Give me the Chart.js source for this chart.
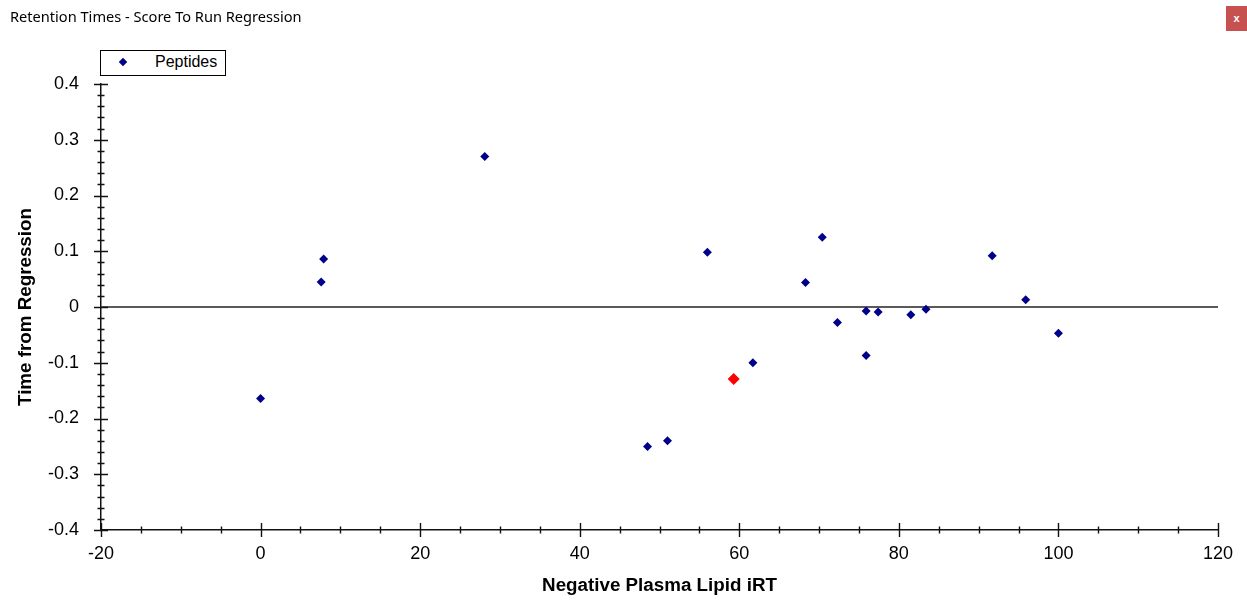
<!DOCTYPE html>
<html>
<head>
<meta charset="utf-8">
<script src="https://cdn.jsdelivr.net/npm/chart.js@4.4.1/dist/chart.umd.min.js"></script>
<style>
  html, body { margin: 0; padding: 0; background: #fff; }
  #wrap { position: relative; width: 1247px; height: 600px; overflow: hidden; }
  #chart { position: absolute; left: 0; top: 0; }
  #caption {
    position: absolute; left: 10px; top: 6px;
    font: 14.6px "Noto Sans", "Open Sans", sans-serif; color: #000;
  }
  #closeBtn {
    position: absolute; left: 1226px; top: 6px; width: 21px; height: 25px;
    background: #c75050; color: #fff; font: bold 11px "Liberation Sans", Arial, sans-serif;
    text-align: center; line-height: 25px;
  }
  #legendBox {
    position: absolute; left: 100px; top: 50px; width: 124px; height: 24px;
    border: 1px solid #000; background: #fff;
    font: 16px "Liberation Sans", Arial, sans-serif; color: #000;
  }
</style>
</head>
<body>
<div id="wrap">
  <canvas id="chart" width="1247" height="600"></canvas>
  <div id="caption">Retention Times - Score To Run Regression</div>
  <div id="closeBtn">x</div>
  <div id="legendBox">
    <span style="position:absolute;left:19px;top:8px;width:6px;height:6px;background:#00008b;transform:rotate(45deg);"></span>
    <span style="position:absolute;left:54px;top:2px;">Peptides</span>
  </div>
</div>
<script>
// Peptide measurements: iRT value vs residual time from the regression line
const irtValues = [0, 7.6, 7.9, 28.1, 48.5, 51.0, 56.0, 59.3, 61.7, 68.3, 70.4, 72.3, 75.9, 75.9, 77.4, 81.5, 83.4, 91.7, 95.9, 100.0];
const residuals = [-0.164, 0.045, 0.086, 0.270, -0.250, -0.240, 0.098, -0.129, -0.100, 0.044, 0.125, -0.028, -0.007, -0.087, -0.009, -0.014, -0.004, 0.092, 0.013, -0.047];
const selectedIndex = 7; // the highlighted (red) peptide

const xMin = -20, xMax = 120, xStep = 20, xMinorStep = 5;
const yMin = -0.4, yMax = 0.4, yStep = 0.1, yMinorStep = 0.02;

const points = irtValues.map((x, i) => ({ x: x, y: residuals[i] }));
const pointColors = points.map((p, i) => i === selectedIndex ? '#ff0000' : '#00008b');
const pointSizes = points.map((p, i) => i === selectedIndex ? 6 : 4.5);

// Draws the major and minor tick marks that cross both axes
const axisTicks = {
    id: 'axisTicks',
    afterDraw(chart) {
        const ctx = chart.ctx;
        const xs = chart.scales.x, ys = chart.scales.y;
        const axisY = ys.getPixelForValue(yMin);
        const axisX = xs.getPixelForValue(xMin);
        ctx.save();
        ctx.strokeStyle = '#111';
        ctx.lineWidth = 1.4;
        ctx.beginPath();
        for (let v = xMin; v <= xMax + 1e-9; v += xMinorStep) {
            const px = Math.round(xs.getPixelForValue(v)) + 0.5;
            const len = Math.abs(v % xStep) < 1e-9 ? 7 : 3.5;
            ctx.moveTo(px, axisY - len);
            ctx.lineTo(px, axisY + len);
        }
        const n = Math.round((yMax - yMin) / yMinorStep);
        for (let k = 0; k <= n; k++) {
            const v = yMin + k * yMinorStep;
            const py = Math.round(ys.getPixelForValue(v)) + 0.5;
            const len = k % 5 === 0 ? 7 : 3.5;
            ctx.moveTo(axisX - len, py);
            ctx.lineTo(axisX + len, py);
        }
        ctx.stroke();
        ctx.restore();
    }
};

const tickFont = { family: '"Liberation Sans", Arial, sans-serif', size: 18 };
const titleFont = { family: '"Liberation Sans", Arial, sans-serif', size: 18.8, weight: 'bold' };

new Chart(document.getElementById('chart').getContext('2d'), {
    type: 'scatter',
    data: {
        datasets: [{
            label: 'Peptides',
            data: points,
            pointStyle: 'rectRot',
            pointRadius: pointSizes,
            pointHoverRadius: pointSizes,
            pointBackgroundColor: pointColors,
            pointBorderColor: pointColors,
            pointBorderWidth: 0
        }]
    },
    options: {
        responsive: false,
        animation: false,
        events: [],
        layout: { padding: { left: 0, top: 84, right: 29, bottom: 0 } },
        plugins: {
            legend: { display: false },
            tooltip: { enabled: false }
        },
        scales: {
            x: {
                type: 'linear',
                min: xMin,
                max: xMax,
                afterFit: (s) => { s.height = 70; },
                ticks: { stepSize: xStep, color: '#000', font: tickFont, padding: 13, maxRotation: 0 },
                grid: { display: false, drawTicks: false },
                border: { color: '#111', width: 1.5 },
                title: { display: true, text: 'Negative Plasma Lipid iRT', color: '#000', font: titleFont, padding: { top: 0, bottom: 3 } }
            },
            y: {
                type: 'linear',
                min: yMin,
                max: yMax,
                afterFit: (s) => { s.width = 101; },
                ticks: {
                    stepSize: yStep,
                    color: '#000',
                    font: tickFont,
                    padding: 22,
                    callback: (v) => Math.abs(v) < 1e-9 ? '0' : (Math.round(v * 10) / 10).toString()
                },
                grid: {
                    drawTicks: false,
                    lineWidth: 2,
                    color: (c) => (c.tick && Math.abs(c.tick.value) < 1e-9) ? '#5a5a5a' : 'rgba(0,0,0,0)'
                },
                border: { color: '#111', width: 1.5 },
                title: { display: true, text: 'Time from Regression', color: '#000', font: titleFont, padding: { top: 15, bottom: 0 } }
            }
        }
    },
    plugins: [axisTicks]
});
</script>
</body>
</html>
